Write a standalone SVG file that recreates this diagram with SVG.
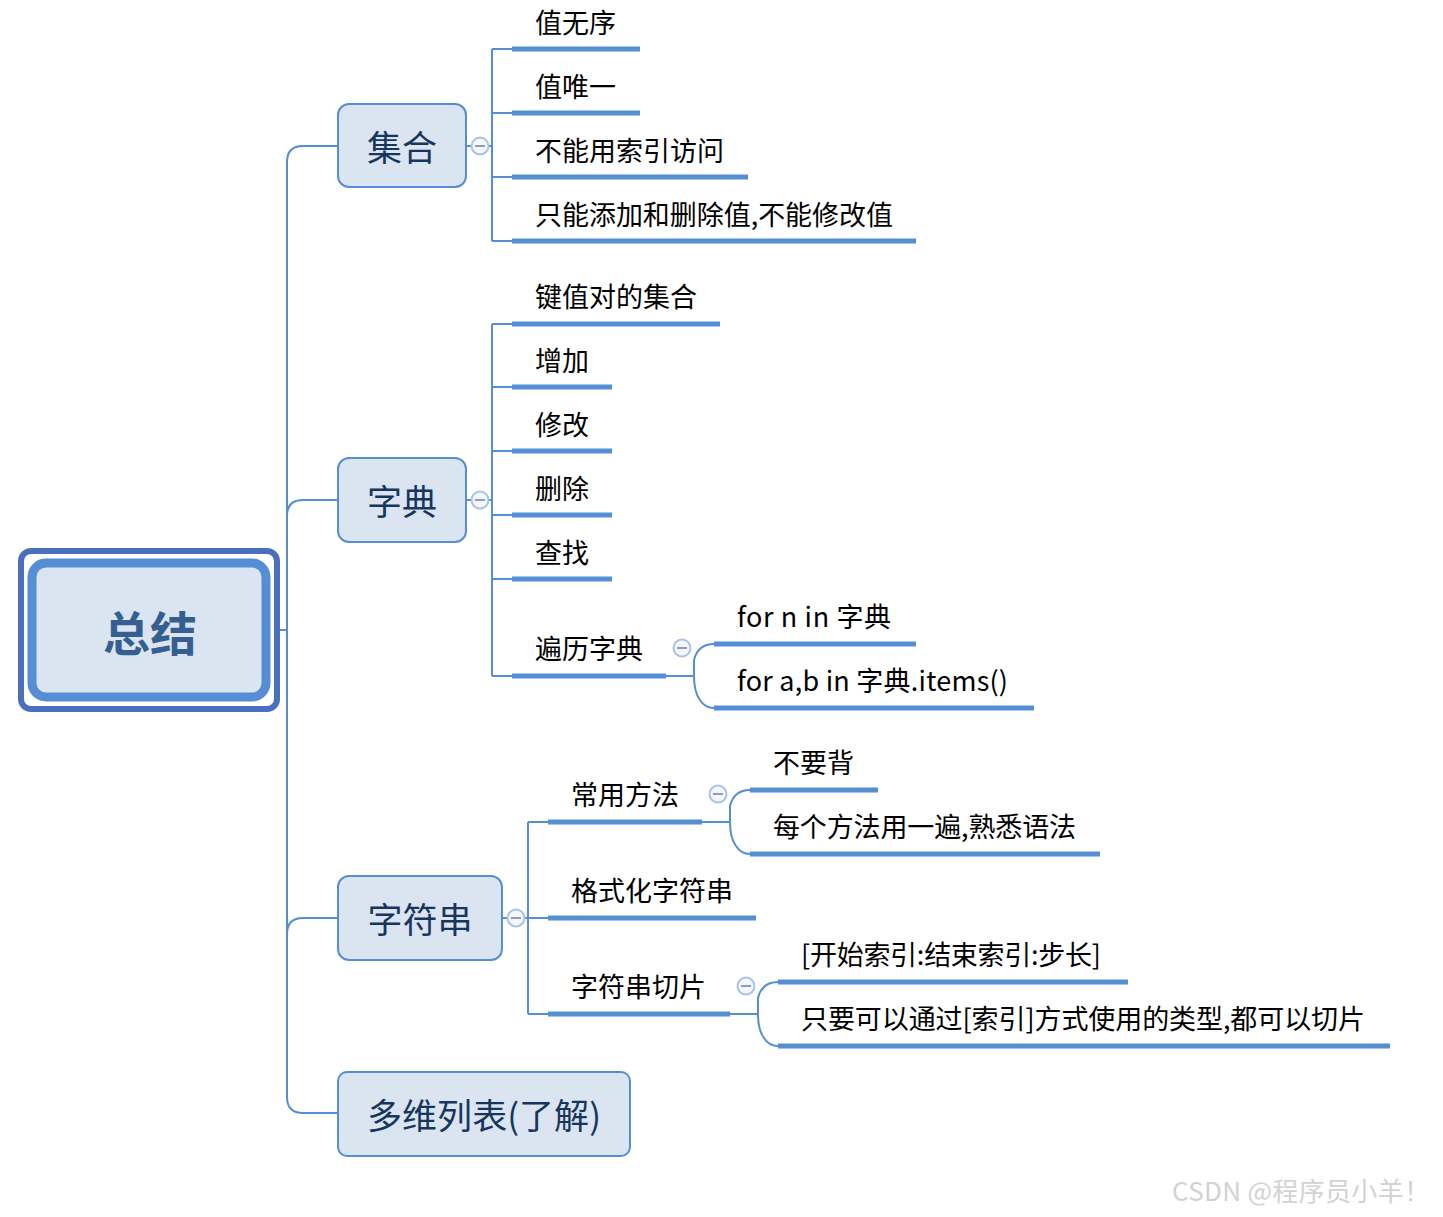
<svg xmlns="http://www.w3.org/2000/svg" width="1443" height="1217" viewBox="0 0 1443 1217">
<style>
.ln{fill:none;stroke:#558ed5;stroke-width:2}
.ul{fill:none;stroke:#558ed5;stroke-width:5}
.node{fill:#dbe5f1;stroke:#558ed5;stroke-width:2}
.nt{font-family:"Microsoft YaHei","Noto Sans CJK SC","Noto Sans",sans-serif;font-size:35px;fill:#17365d;text-anchor:middle}
.ct{font-family:"Microsoft YaHei","Noto Sans CJK SC","Noto Sans",sans-serif;font-size:27px;fill:#000}
.cb circle{fill:#f4f7fd;stroke:#a9c1ee;stroke-width:2}
.cb line{stroke:#8e9bc8;stroke-width:2}
</style>
<rect width="1443" height="1217" fill="#fff"/>
<g id="connectors">
<path class="ln" d="M270,630 H287"/>
<path class="ln" d="M338,146 H303 Q287,146 287,162 V1097 Q287,1113 303,1113 H338"/>
<path class="ln" d="M338,500 H303 Q287,500 287,516"/>
<path class="ln" d="M338,918 H303 Q287,918 287,934"/>
<path class="ln" d="M466,146 H492 M492,49 V241 M492,49 H512 M492,113 H512 M492,177 H512 M492,241 H512"/>
<path class="ln" d="M466,500 H492 M492,324 V676 M492,324 H512 M492,387 H512 M492,451 H512 M492,515 H512 M492,579 H512 M492,676 H512"/>
<path class="ln" d="M666,676 H694 M714,644 Q698,644 694,660 V676 M694,676 Q694,692 700,700 Q705,708 714,708"/>
<path class="ln" d="M502,918 H528 M528,822 V1014 M528,822 H548 M528,918 H548 M528,1014 H548"/>
<path class="ln" d="M702,822 H730 M750,790 Q734,790 730,806 V822 M730,822 Q730,838 736,846 Q741,854 750,854"/>
<path class="ln" d="M730,1014 H758 M778,982 Q762,982 758,998 V1014 M758,1014 Q758,1030 764,1038 Q769,1046 778,1046"/>
<path class="ul" d="M512,49 H640 M512,113 H640 M512,177 H748 M512,241 H916"/>
<path class="ul" d="M512,324 H720 M512,387 H612 M512,451 H612 M512,515 H612 M512,579 H612 M512,676 H666"/>
<path class="ul" d="M714,644 H916 M714,708 H1034"/>
<path class="ul" d="M548,822 H702 M750,790 H878 M750,854 H1100 M548,918 H756 M548,1014 H730 M778,982 H1128 M778,1046 H1390"/>
</g>
<g class="cb">
<circle cx="480" cy="146" r="8.5"/><line x1="475" y1="146" x2="485" y2="146"/>
<circle cx="480" cy="500" r="8.5"/><line x1="475" y1="500" x2="485" y2="500"/>
<circle cx="682" cy="648" r="8.5"/><line x1="677" y1="648" x2="687" y2="648"/>
<circle cx="516" cy="918" r="8.5"/><line x1="511" y1="918" x2="521" y2="918"/>
<circle cx="718" cy="794" r="8.5"/><line x1="713" y1="794" x2="723" y2="794"/>
<circle cx="746" cy="986" r="8.5"/><line x1="741" y1="986" x2="751" y2="986"/>
</g>
<g id="root">
<rect x="21" y="551" width="256" height="158" rx="10" fill="#fff" stroke="#4a70bd" stroke-width="6"/>
<rect x="32" y="563" width="234" height="134" rx="14" fill="#dbe5f1" stroke="#558ed5" stroke-width="9"/>
<text x="150" y="651" font-family="Microsoft YaHei,'Noto Sans CJK SC',sans-serif" font-size="47" font-weight="bold" fill="#355f93" text-anchor="middle">总结</text>
</g>
<g id="n-set"><rect class="node" x="338" y="104" width="128" height="83" rx="11"/><text class="nt" x="402" y="161">集合</text></g>
<g id="n-dict"><rect class="node" x="338" y="458" width="128" height="84" rx="11"/><text class="nt" x="402" y="515">字典</text></g>
<g id="n-str"><rect class="node" x="338" y="876" width="164" height="84" rx="11"/><text class="nt" x="420" y="933">字符串</text></g>
<g id="n-list"><rect class="node" x="338" y="1072" width="292" height="84" rx="9" stroke-width="3.5"/><text class="nt" x="484" y="1129" textLength="234" lengthAdjust="spacing">多维列表(了解)</text></g>
<g id="c-set-1"><text class="ct" x="535" y="33">值无序</text></g>
<g id="c-set-2"><text class="ct" x="535" y="97">值唯一</text></g>
<g id="c-set-3"><text class="ct" x="535" y="161">不能用索引访问</text></g>
<g id="c-set-4"><text class="ct" x="535" y="225" textLength="358" lengthAdjust="spacing">只能添加和删除值,不能修改值</text></g>
<g id="c-dict-1"><text class="ct" x="535" y="307">键值对的集合</text></g>
<g id="c-dict-2"><text class="ct" x="535" y="371">增加</text></g>
<g id="c-dict-3"><text class="ct" x="535" y="435">修改</text></g>
<g id="c-dict-4"><text class="ct" x="535" y="499">删除</text></g>
<g id="c-dict-5"><text class="ct" x="535" y="563">查找</text></g>
<g id="c-dict-6"><text class="ct" x="535" y="659">遍历字典</text></g>
<g id="c-iter-1"><text class="ct" x="737" y="627" textLength="154" lengthAdjust="spacing">for n in 字典</text></g>
<g id="c-iter-2"><text class="ct" x="737" y="691" textLength="271" lengthAdjust="spacing">for a,b in 字典.items()</text></g>
<g id="c-str-1"><text class="ct" x="571" y="805">常用方法</text></g>
<g id="c-m-1"><text class="ct" x="773" y="773">不要背</text></g>
<g id="c-m-2"><text class="ct" x="773" y="837" textLength="303" lengthAdjust="spacing">每个方法用一遍,熟悉语法</text></g>
<g id="c-str-2"><text class="ct" x="571" y="901">格式化字符串</text></g>
<g id="c-str-3"><text class="ct" x="571" y="997">字符串切片</text></g>
<g id="c-s-1"><text class="ct" x="801" y="965" textLength="300" lengthAdjust="spacing">[开始索引:结束索引:步长]</text></g>
<g id="c-s-2"><text class="ct" x="801" y="1029" textLength="564" lengthAdjust="spacing">只要可以通过[索引]方式使用的类型,都可以切片</text></g>
<text x="1172" y="1201" font-family="'Noto Sans CJK SC','Noto Sans',sans-serif" font-size="26" fill="#d2d2d2" textLength="258" lengthAdjust="spacing">CSDN @程序员小羊！</text>
</svg>
